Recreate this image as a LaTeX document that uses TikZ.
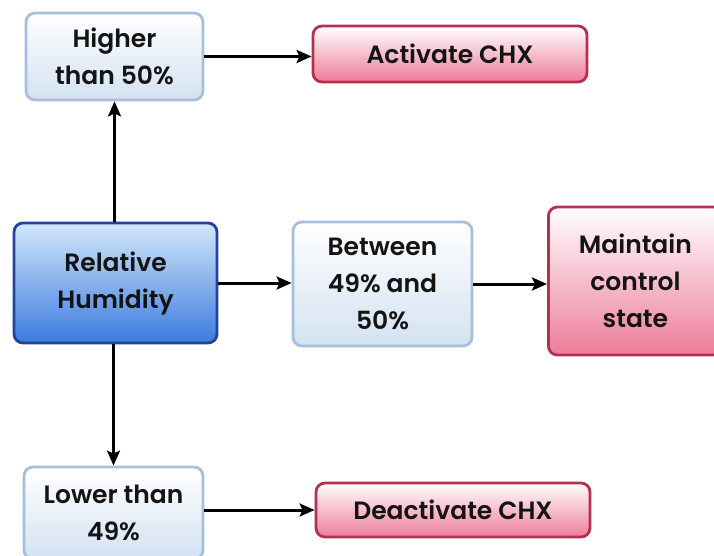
\documentclass[tikz,border=0pt]{standalone}
\usepackage{fontspec}
\setmainfont{Poppins}[BoldFont={Poppins SemiBold}]
\usetikzlibrary{arrows.meta}
\definecolor{rhtop}{HTML}{D2E8FA}
\definecolor{rhbot}{HTML}{3C7BDE}
\definecolor{rhline}{HTML}{23449A}
\definecolor{cdbot}{HTML}{D3E2F1}
\definecolor{cdline}{HTML}{A5BFDC}
\definecolor{actbot}{HTML}{EC7C9A}
\definecolor{actline}{HTML}{B3304F}
\definecolor{ink}{HTML}{141414}
\tikzset{
  box/.style={rounded corners=9pt, line width=2.8pt, align=center, inner sep=0pt,
    text=ink, font=\fontsize{25}{37}\selectfont\bfseries},
  cond/.style={box, draw=cdline, top color=white, bottom color=cdbot},
  source/.style={box, draw=rhline, top color=rhtop, bottom color=rhbot},
  action/.style={box, draw=actline, top color=white, bottom color=actbot},
  flow/.style={line width=3pt, -{Stealth[length=15pt,width=13pt,inset=3pt]}}
}
\begin{document}
\begin{tikzpicture}[x=1pt,y=-1pt]
\useasboundingbox (0,0) rectangle (714,555);
% condition boxes and the sensor input
\node[source, minimum width=203pt, minimum height=120pt] (rh) at (115.5,283) {Relative\\Humidity};
\node[cond, minimum width=177pt, minimum height=87pt] (hi) at (114.5,56.5) {Higher\\than 50\%};
\node[cond, minimum width=179pt, minimum height=124pt] (mid) at (382.5,284) {Between\\49\% and\\50\%};
\node[cond, minimum width=179pt, minimum height=92pt] (lo) at (113.5,513) {Lower than\\49\%};
% resulting actions
\node[action, minimum width=174pt, minimum height=148pt, anchor=west] (keep) at (547,281) {Maintain\\control\\state};
\node[action, minimum width=274pt, minimum height=56pt] (act) at (450,54) {Activate CHX};
\node[action, minimum width=274pt, minimum height=54pt] (deact) at (453,510) {Deactivate CHX};
% connectors, kept straight between the boxes
\draw[flow] (rh.north -| hi.south) -- (hi.south);
\draw[flow] (rh.south -| lo.north) -- (lo.north);
\draw[flow] (rh.east) -- (rh.east -| mid.west);
\draw[flow] (mid.east) -- (mid.east -| keep.west);
\draw[flow] (hi.east) -- (hi.east -| act.west);
\draw[flow] (lo.east |- deact.west) -- (deact.west);
\end{tikzpicture}
\end{document}
